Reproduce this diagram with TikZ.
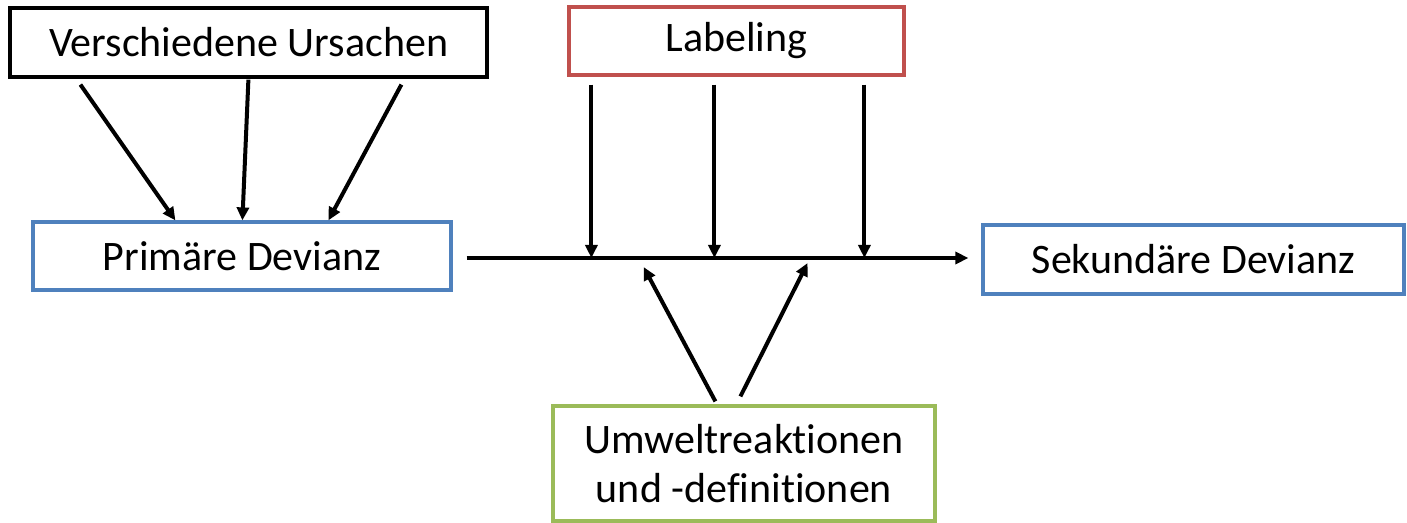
\documentclass[tikz,border=0pt]{standalone}
\usepackage{fontspec}
\setmainfont{Carlito}[Ligatures={NoCommon}]
\usetikzlibrary{calc,arrows.meta}
\definecolor{cblue}{HTML}{4F81BD}
\definecolor{cred}{HTML}{C0504D}
\definecolor{cgreen}{HTML}{9BBB59}
\tikzset{
  box/.style={draw, line width=3.2bp, rectangle, inner sep=0pt, align=center,
    font=\fontsize{42bp}{49bp}\selectfont},
  arr/.style={line width=4bp, -{Triangle[length=13bp,width=12bp]}},
}
\begin{document}
\begin{tikzpicture}[x=1bp,y=-1bp]
\useasboundingbox (0,0) rectangle (1407,523);
\node[box, draw=black, minimum width=477bp, minimum height=69bp] (vu) at (248.5,42.5) {Verschiedene Ursachen};
\node[box, draw=cblue, minimum width=418bp, minimum height=68bp] (pd) at (242,256) {Primäre Devianz};
\node[box, draw=cred, minimum width=335bp, minimum height=68bp] (lab) at (736.5,41) {Labeling};
\node[box, draw=cblue, minimum width=421bp, minimum height=69bp] (sd) at (1193.5,259.5) {Sekundäre Devianz};
\node[box, draw=cgreen, minimum width=382bp, minimum height=115bp] (uw) at (744,463.5) {Umweltreaktionen\\und -definitionen};
% main line
\coordinate (ms) at ($(pd.east)+(14,2)$);
\coordinate (me) at ($(sd.west)+(-13,-1.5)$);
\draw[arr] (ms) -- (me);
% arrows from Verschiedene Ursachen
\draw[arr] ($(vu.south west)+(72,6)$) -- ($(pd.north west)+(144,0)$);
\draw[arr] ($(vu.south west)+(240,1)$) -- ($(pd.north west)+(211,0)$);
\draw[arr] ($(vu.south west)+(393,6)$) -- ($(pd.north west)+(297,0)$);
% arrows from Labeling
\coordinate (l1) at ($(lab.south west)+(24,8)$);
\coordinate (l2) at ($(lab.south west)+(147,8)$);
\coordinate (l3) at ($(lab.south west)+(297,8)$);
\draw[arr] (l1) -- (l1 |- ms);
\draw[arr] (l2) -- (l2 |- ms);
\draw[arr] (l3) -- (l3 |- ms);
% arrows from Umwelt
\draw[arr] ($(uw.north west)+(164,-3)$) -- ($(ms)+(177,9)$);
\draw[arr] ($(uw.north west)+(189,-8)$) -- ($(ms)+(341,5)$);
\end{tikzpicture}
\end{document}
